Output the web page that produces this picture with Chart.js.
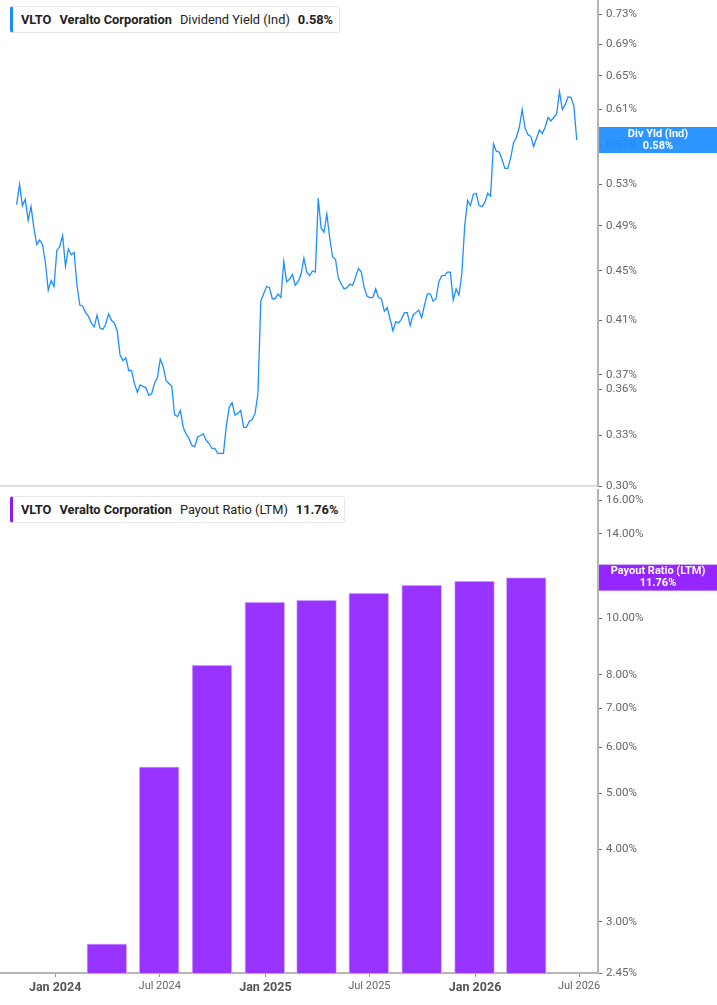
<!DOCTYPE html>
<html>
<head>
<meta charset="utf-8">
<script src="https://cdn.jsdelivr.net/npm/chart.js@4.4.1/dist/chart.umd.min.js"></script>
<style>
  html, body { margin: 0; padding: 0; background: #fff; }
  body { width: 717px; height: 1005px; position: relative; overflow: hidden; font-family: Roboto, sans-serif; }
  canvas { position: absolute; left: 0; }
  #topChart { top: 0; }
  #bottomChart { top: 488px; }
  .hdr {
    position: absolute; left: 10px; height: 27px; line-height: 25px;
    box-sizing: border-box; padding-left: 8px; padding-right: 6px;
    background: #fff; border: 1px solid #e8e8e8; border-left-width: 3px;
    border-radius: 3px; font-size: 12.8px; color: #222; white-space: nowrap; z-index: 2;
  }
  .hdr span { margin-right: 8px; }
  .hdr .b { font-weight: 700; }
</style>
</head>
<body>
<canvas id="topChart" width="717" height="500"></canvas>
<canvas id="bottomChart" width="717" height="517"></canvas>
<div class="hdr" id="hdrTop" style="top:6px; border-left-color:#1a8cff;"></div>
<div class="hdr" id="hdrBottom" style="top:496px; border-left-color:#8a1cff;"></div>
<script>
// Thông tin mã
const ticker = 'VLTO';
const company = 'Veralto Corporation';

// Dividend Yield (Ind) - mỗi điểm cách nhau 5 ngày
const yieldStart = '2023-10-26';
const yieldStepDays = 5;
const yieldValues = [
  0.510, 0.530, 0.509, 0.515, 0.495, 0.508, 0.488, 0.473, 0.477, 0.473,
  0.457, 0.434, 0.442, 0.437, 0.468, 0.471, 0.481, 0.454, 0.469, 0.464,
  0.466, 0.438, 0.422, 0.421, 0.416, 0.413, 0.408, 0.405, 0.414, 0.404,
  0.403, 0.407, 0.415, 0.410, 0.408, 0.402, 0.384, 0.380, 0.382, 0.373,
  0.373, 0.364, 0.358, 0.363, 0.362, 0.361, 0.356, 0.357, 0.364, 0.368,
  0.381, 0.376, 0.366, 0.364, 0.362, 0.343, 0.342, 0.346, 0.335, 0.331,
  0.328, 0.324, 0.323, 0.329, 0.330, 0.331, 0.327, 0.325, 0.322, 0.322,
  0.319, 0.319, 0.319, 0.336, 0.348, 0.351, 0.343, 0.344, 0.346, 0.335,
  0.335, 0.339, 0.340, 0.344, 0.357, 0.425, 0.431, 0.437, 0.436, 0.427,
  0.427, 0.431, 0.428, 0.458, 0.441, 0.443, 0.447, 0.438, 0.441, 0.447,
  0.461, 0.449, 0.446, 0.450, 0.449, 0.516, 0.488, 0.484, 0.501, 0.479,
  0.462, 0.460, 0.444, 0.439, 0.435, 0.436, 0.439, 0.438, 0.445, 0.452,
  0.449, 0.436, 0.429, 0.428, 0.428, 0.435, 0.428, 0.427, 0.417, 0.420,
  0.411, 0.402, 0.409, 0.408, 0.411, 0.416, 0.416, 0.406, 0.414, 0.416,
  0.418, 0.412, 0.422, 0.431, 0.431, 0.425, 0.427, 0.441, 0.446, 0.446,
  0.449, 0.449, 0.426, 0.435, 0.430, 0.448, 0.490, 0.514, 0.509, 0.520,
  0.521, 0.509, 0.508, 0.512, 0.521, 0.518, 0.572, 0.564, 0.563, 0.555,
  0.546, 0.546, 0.557, 0.573, 0.579, 0.590, 0.610, 0.589, 0.582, 0.580,
  0.569, 0.578, 0.587, 0.583, 0.590, 0.601, 0.597, 0.601, 0.605, 0.631,
  0.610, 0.616, 0.625, 0.624, 0.614, 0.576
];

// Payout Ratio (LTM) theo quý
const payoutDates = ['2024-03-31', '2024-06-30', '2024-09-30', '2024-12-31', '2025-03-31',
                     '2025-06-30', '2025-09-30', '2025-12-31', '2026-03-31'];
const payoutValues = [2.75, 5.55, 8.31, 10.67, 10.76, 11.06, 11.42, 11.60, 11.76];

// Nhãn trục
const yieldTicks = [0.30, 0.33, 0.36, 0.37, 0.41, 0.45, 0.49, 0.53, 0.57, 0.61, 0.65, 0.69, 0.73];
const payoutTicks = [2.45, 3, 4, 5, 6, 7, 8, 10, 14, 16];
const dateTicks = ['2024-01-01', '2024-07-01', '2025-01-01', '2025-07-01', '2026-01-01', '2026-07-01'];
const xStart = '2023-09-27';
const xEnd = '2026-08-03';

const monthNames = ['Jan', 'Feb', 'Mar', 'Apr', 'May', 'Jun', 'Jul', 'Aug', 'Sep', 'Oct', 'Nov', 'Dec'];
const DAY = 86400000;
const FONT = 'Roboto, sans-serif';

Chart.defaults.font.family = FONT;
Chart.defaults.animation = false;

const lastYield = yieldValues[yieldValues.length - 1];
const lastPayout = payoutValues[payoutValues.length - 1];

// Header
function fillHeader(id, metric, value) {
  document.getElementById(id).innerHTML =
    `<span class="b">${ticker}</span><span class="b">${company}</span><span>${metric}</span><span class="b" style="margin-right:0">${value}</span>`;
}
fillHeader('hdrTop', 'Dividend Yield (Ind)', lastYield.toFixed(2) + '%');
fillHeader('hdrBottom', 'Payout Ratio (LTM)', lastPayout.toFixed(2) + '%');

// Hộp giá trị cuối bên phải trục
const lastValueBox = {
  id: 'lastValueBox',
  afterDraw(chart, args, opts) {
    const { ctx, chartArea } = chart;
    const y = chart.scales.y.getPixelForValue(opts.value);
    const left = chartArea.right + 1;
    const w = chart.width - left;
    ctx.save();
    ctx.globalAlpha = opts.alpha;
    ctx.fillStyle = opts.color;
    ctx.fillRect(left, y - 13, w, 26);
    ctx.globalAlpha = 1;
    ctx.fillStyle = '#fff';
    ctx.font = 'bold 11px ' + FONT;
    ctx.textAlign = 'center';
    ctx.textBaseline = 'middle';
    ctx.fillText(opts.label, left + w / 2, y - 6);
    ctx.fillText(opts.text, left + w / 2, y + 6);
    ctx.restore();
  }
};

function noPad(s) {
  s.paddingTop = 0; s.paddingBottom = 0; s.paddingLeft = 0; s.paddingRight = 0;
}

function yAxis(ticks, min, max) {
  return {
    type: 'logarithmic',
    position: 'right',
    min: min,
    max: max,
    afterBuildTicks: s => { s.ticks = ticks.map(v => ({ value: v })); },
    afterFit: s => { s.width = 119; noPad(s); },
    ticks: {
      autoSkip: false,
      padding: 4,
      color: '#666',
      font: { size: 11.5 },
      callback: v => Number(v).toFixed(2) + '%'
    },
    grid: { drawOnChartArea: false, drawTicks: true, tickLength: 4, color: '#666' },
    border: { display: true, color: '#b5b5b5', width: 2 }
  };
}

function isJan(c) {
  return c.tick && new Date(c.tick.value).getUTCMonth() === 0;
}

// Biểu đồ đường Dividend Yield
const yieldPoints = yieldValues.map((v, i) => ({ x: Date.parse(yieldStart) + i * yieldStepDays * DAY, y: v }));

new Chart(document.getElementById('topChart'), {
  type: 'line',
  data: {
    datasets: [{
      data: yieldPoints,
      borderColor: '#1e8fff',
      borderWidth: 1.3,
      pointRadius: 0,
      tension: 0
    }]
  },
  options: {
    responsive: false,
    layout: { padding: 0 },
    plugins: {
      legend: { display: false },
      tooltip: { enabled: false },
      lastValueBox: { value: lastYield, color: '#1a8cff', alpha: 0.92, label: 'Div Yld (Ind)', text: lastYield.toFixed(2) + '%' }
    },
    scales: {
      x: {
        type: 'linear',
        min: Date.parse(xStart),
        max: Date.parse(xEnd),
        ticks: { display: false },
        grid: { display: false },
        border: { display: true, color: '#dedede', width: 2 },
        afterFit: s => { s.height = 14; noPad(s); }
      },
      y: yAxis(yieldTicks, 0.30, 0.75)
    }
  },
  plugins: [lastValueBox]
});

// Biểu đồ cột Payout Ratio
new Chart(document.getElementById('bottomChart'), {
  type: 'bar',
  data: {
    datasets: [{
      data: payoutDates.map((d, i) => ({ x: Date.parse(d), y: payoutValues[i] })),
      backgroundColor: '#9933ff',
      borderColor: '#dcc2ff',
      borderWidth: 1,
      barThickness: 40
    }]
  },
  options: {
    responsive: false,
    layout: { padding: { top: 2 } },
    plugins: {
      legend: { display: false },
      tooltip: { enabled: false },
      lastValueBox: { value: lastPayout, color: '#9526ff', alpha: 1, label: 'Payout Ratio (LTM)', text: lastPayout.toFixed(2) + '%' }
    },
    scales: {
      x: {
        type: 'linear',
        offset: false,
        min: Date.parse(xStart),
        max: Date.parse(xEnd),
        afterBuildTicks: s => { s.ticks = dateTicks.map(d => ({ value: Date.parse(d) })); },
        afterFit: s => { s.height = 32; noPad(s); },
        ticks: {
          autoSkip: false,
          maxRotation: 0,
          padding: 3,
          color: c => (isJan(c) ? '#555' : '#666'),
          font: c => (isJan(c) ? { size: 12.5, weight: 'bold' } : { size: 11 }),
          callback: v => {
            const d = new Date(v);
            return monthNames[d.getUTCMonth()] + ' ' + d.getUTCFullYear();
          }
        },
        grid: { offset: false, drawOnChartArea: false, drawTicks: true, tickLength: 4, color: '#999' },
        border: { display: true, color: '#b5b5b5', width: 2 }
      },
      y: yAxis(payoutTicks, 2.45, 16.65)
    }
  },
  plugins: [lastValueBox]
});
</script>
</body>
</html>
